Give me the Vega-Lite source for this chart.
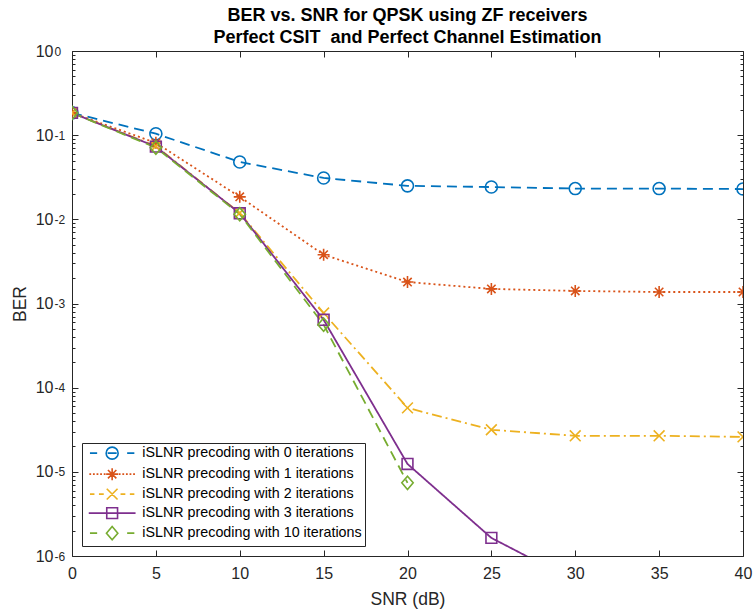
{
  "$schema": "https://vega.github.io/schema/vega-lite/v6.json",
  "width": 671,
  "height": 505,
  "autosize": {"type": "none"},
  "padding": {"left": 72, "top": 51, "right": 11, "bottom": 57},
  "background": "white",
  "title": {
    "text": ["BER vs. SNR for QPSK using ZF receivers", "Perfect CSIT\u00a0 and Perfect Channel Estimation"],
    "font": "Liberation Sans",
    "fontSize": 18,
    "fontWeight": "bold",
    "color": "#000000",
    "lineHeight": 22,
    "offset": -4,
    "anchor": "middle",
    "frame": "group"
  },
  "data": {
    "values": [
      {"snr": 0, "ber": 0.184, "series": "iSLNR precoding with 0 iterations"},
      {"snr": 5, "ber": 0.104, "series": "iSLNR precoding with 0 iterations"},
      {"snr": 10, "ber": 0.048, "series": "iSLNR precoding with 0 iterations"},
      {"snr": 15, "ber": 0.031, "series": "iSLNR precoding with 0 iterations"},
      {"snr": 20, "ber": 0.025, "series": "iSLNR precoding with 0 iterations"},
      {"snr": 25, "ber": 0.0242, "series": "iSLNR precoding with 0 iterations"},
      {"snr": 30, "ber": 0.0232, "series": "iSLNR precoding with 0 iterations"},
      {"snr": 35, "ber": 0.0232, "series": "iSLNR precoding with 0 iterations"},
      {"snr": 40, "ber": 0.0229, "series": "iSLNR precoding with 0 iterations"},
      {"snr": 0, "ber": 0.184, "series": "iSLNR precoding with 1 iterations"},
      {"snr": 5, "ber": 0.081, "series": "iSLNR precoding with 1 iterations"},
      {"snr": 10, "ber": 0.0185, "series": "iSLNR precoding with 1 iterations"},
      {"snr": 15, "ber": 0.0038, "series": "iSLNR precoding with 1 iterations"},
      {"snr": 20, "ber": 0.0018, "series": "iSLNR precoding with 1 iterations"},
      {"snr": 25, "ber": 0.00149, "series": "iSLNR precoding with 1 iterations"},
      {"snr": 30, "ber": 0.00141, "series": "iSLNR precoding with 1 iterations"},
      {"snr": 35, "ber": 0.00137, "series": "iSLNR precoding with 1 iterations"},
      {"snr": 40, "ber": 0.00137, "series": "iSLNR precoding with 1 iterations"},
      {"snr": 0, "ber": 0.184, "series": "iSLNR precoding with 2 iterations"},
      {"snr": 5, "ber": 0.074, "series": "iSLNR precoding with 2 iterations"},
      {"snr": 10, "ber": 0.0119, "series": "iSLNR precoding with 2 iterations"},
      {"snr": 15, "ber": 0.00077, "series": "iSLNR precoding with 2 iterations"},
      {"snr": 20, "ber": 0.0000575, "series": "iSLNR precoding with 2 iterations"},
      {"snr": 25, "ber": 0.0000316, "series": "iSLNR precoding with 2 iterations"},
      {"snr": 30, "ber": 0.0000268, "series": "iSLNR precoding with 2 iterations"},
      {"snr": 35, "ber": 0.0000268, "series": "iSLNR precoding with 2 iterations"},
      {"snr": 40, "ber": 0.000026, "series": "iSLNR precoding with 2 iterations"},
      {"snr": 0, "ber": 0.184, "series": "iSLNR precoding with 3 iterations"},
      {"snr": 5, "ber": 0.073, "series": "iSLNR precoding with 3 iterations"},
      {"snr": 10, "ber": 0.0118, "series": "iSLNR precoding with 3 iterations"},
      {"snr": 15, "ber": 0.00064, "series": "iSLNR precoding with 3 iterations"},
      {"snr": 20, "ber": 0.0000124, "series": "iSLNR precoding with 3 iterations"},
      {"snr": 25, "ber": 0.00000164, "series": "iSLNR precoding with 3 iterations"},
      {"snr": 30, "ber": 0.0000005, "series": "iSLNR precoding with 3 iterations"},
      {"snr": 0, "ber": 0.184, "series": "iSLNR precoding with 10 iterations"},
      {"snr": 5, "ber": 0.071, "series": "iSLNR precoding with 10 iterations"},
      {"snr": 10, "ber": 0.0115, "series": "iSLNR precoding with 10 iterations"},
      {"snr": 15, "ber": 0.00056, "series": "iSLNR precoding with 10 iterations"},
      {"snr": 20, "ber": 0.0000074, "series": "iSLNR precoding with 10 iterations"}
    ]
  },
  "layer": [
    {
      "mark": {"type": "line", "clip": true, "strokeWidth": 1.8},
      "encoding": {
        "x": {
          "field": "snr", "type": "quantitative",
          "scale": {"domain": [0, 40], "nice": false, "zero": false},
          "axis": {
            "values": [0, 5, 10, 15, 20, 25, 30, 35, 40],
            "tickSize": -6, "labelPadding": 15, "labelFontSize": 16,
            "labelFlush": false, "labelOverlap": false,
            "title": "SNR (dB)", "titleFontSize": 17.5, "titlePadding": 9
          }
        },
        "y": {
          "field": "ber", "type": "quantitative",
          "scale": {"type": "log", "domain": [0.000001, 1], "nice": false},
          "axis": {
            "values": [0.000001, 0.00001, 0.0001, 0.001, 0.01, 0.1, 1],
            "tickSize": -6, "labelPadding": 25, "labelFontSize": 16,
            "labelExpr": "'10'", "labelAlign": "right", "labelBaseline": "middle", "labelDy": 3,
            "labelOverlap": false, "labelFlush": false,
            "title": "BER", "titleFontSize": 17.5, "titlePadding": 6
          }
        },
        "color": {
          "field": "series", "type": "nominal",
          "scale": {
            "domain": ["iSLNR precoding with 0 iterations", "iSLNR precoding with 1 iterations", "iSLNR precoding with 2 iterations", "iSLNR precoding with 3 iterations", "iSLNR precoding with 10 iterations"],
            "range": ["#0072BD", "#D95319", "#EDB120", "#7E2F8E", "#77AC30"]
          },
          "legend": null
        },
        "strokeDash": {
          "field": "series", "type": "nominal",
          "scale": {
            "domain": ["iSLNR precoding with 0 iterations", "iSLNR precoding with 1 iterations", "iSLNR precoding with 2 iterations", "iSLNR precoding with 3 iterations", "iSLNR precoding with 10 iterations"],
            "range": [[10, 6], [2, 3], [10, 4, 2, 4], [1, 0], [10, 6]]
          },
          "legend": null
        }
      }
    },
    {
      "mark": {"type": "point", "clip": true, "filled": false, "strokeWidth": 1.6, "size": 144, "opacity": 1},
      "encoding": {
        "x": {
          "field": "snr", "type": "quantitative",
          "scale": {"domain": [0, 40], "nice": false, "zero": false},
          "axis": {
            "orient": "top",
            "values": [0, 5, 10, 15, 20, 25, 30, 35, 40],
            "tickSize": -6, "labels": false, "title": null
          }
        },
        "y": {
          "field": "ber", "type": "quantitative",
          "scale": {"type": "log", "domain": [0.000001, 1], "nice": false},
          "axis": {
            "orient": "left",
            "values": [0.000001, 0.00001, 0.0001, 0.001, 0.01, 0.1, 1],
            "ticks": false, "tickSize": 0, "labelPadding": 18, "labelFontSize": 12,
            "labelExpr": "'' + round(log(datum.value) / LN10)",
            "labelAlign": "left", "labelBaseline": "middle", "labelDy": -5,
            "labelOverlap": false, "labelFlush": false, "title": null
          }
        },
        "color": {
          "field": "series", "type": "nominal",
          "scale": {
            "domain": ["iSLNR precoding with 0 iterations", "iSLNR precoding with 1 iterations", "iSLNR precoding with 2 iterations", "iSLNR precoding with 3 iterations", "iSLNR precoding with 10 iterations"],
            "range": ["#0072BD", "#D95319", "#EDB120", "#7E2F8E", "#77AC30"]
          },
          "legend": null
        },
        "shape": {
          "field": "series", "type": "nominal",
          "scale": {
            "domain": ["iSLNR precoding with 0 iterations", "iSLNR precoding with 1 iterations", "iSLNR precoding with 2 iterations", "iSLNR precoding with 3 iterations", "iSLNR precoding with 10 iterations"],
            "range": ["circle", "M-1,0L1,0M0,-1L0,1M-0.7,-0.7L0.7,0.7M-0.7,0.7L0.7,-0.7", "M-0.9,-0.9L0.9,0.9M-0.9,0.9L0.9,-0.9", "M-0.9,-0.9L0.9,-0.9L0.9,0.9L-0.9,0.9Z", "M0,-1.1L0.95,0L0,1.1L-0.95,0Z"]
          },
          "legend": null
        }
      }
    },
    {
      "mark": {"type": "point", "opacity": 0},
      "encoding": {
        "x": {"field": "snr", "type": "quantitative", "scale": {"domain": [0, 40], "nice": false, "zero": false}, "axis": null},
        "y": {
          "field": "ber", "type": "quantitative",
          "scale": {"type": "log", "domain": [0.000001, 1], "nice": false},
          "axis": {
            "orient": "left",
            "values": [0.000002, 0.000003, 0.000004, 0.000005, 0.000006, 0.000007, 0.000008, 0.000009, 0.00002, 0.00003, 0.00004, 0.00005, 0.00006, 0.00007, 0.00008, 0.00009, 0.0002, 0.0003, 0.0004, 0.0005, 0.0006, 0.0007, 0.0008, 0.0009, 0.002, 0.003, 0.004, 0.005, 0.006, 0.007, 0.008, 0.009, 0.02, 0.03, 0.04, 0.05, 0.06, 0.07, 0.08, 0.09, 0.2, 0.3, 0.4, 0.5, 0.6, 0.7, 0.8, 0.9],
            "tickSize": -3, "labels": false, "title": null
          }
        }
      }
    },
    {
      "mark": {"type": "point", "opacity": 0},
      "encoding": {
        "x": {"field": "snr", "type": "quantitative", "scale": {"domain": [0, 40], "nice": false, "zero": false}, "axis": null},
        "y": {
          "field": "ber", "type": "quantitative",
          "scale": {"type": "log", "domain": [0.000001, 1], "nice": false},
          "axis": {
            "orient": "right",
            "values": [0.000001, 0.00001, 0.0001, 0.001, 0.01, 0.1, 1],
            "tickSize": -6, "labels": false, "title": null
          }
        }
      }
    },
    {
      "mark": {"type": "point", "opacity": 0, "filled": false},
      "encoding": {
        "x": {"field": "snr", "type": "quantitative", "scale": {"domain": [0, 40], "nice": false, "zero": false}, "axis": null},
        "y": {
          "field": "ber", "type": "quantitative",
          "scale": {"type": "log", "domain": [0.000001, 1], "nice": false},
          "axis": {
            "orient": "right",
            "values": [0.000002, 0.000003, 0.000004, 0.000005, 0.000006, 0.000007, 0.000008, 0.000009, 0.00002, 0.00003, 0.00004, 0.00005, 0.00006, 0.00007, 0.00008, 0.00009, 0.0002, 0.0003, 0.0004, 0.0005, 0.0006, 0.0007, 0.0008, 0.0009, 0.002, 0.003, 0.004, 0.005, 0.006, 0.007, 0.008, 0.009, 0.02, 0.03, 0.04, 0.05, 0.06, 0.07, 0.08, 0.09, 0.2, 0.3, 0.4, 0.5, 0.6, 0.7, 0.8, 0.9],
            "tickSize": -3, "labels": false, "title": null
          }
        },
        "color": {
          "field": "series", "type": "nominal",
          "scale": {
            "domain": ["iSLNR precoding with 0 iterations", "iSLNR precoding with 1 iterations", "iSLNR precoding with 2 iterations", "iSLNR precoding with 3 iterations", "iSLNR precoding with 10 iterations"],
            "range": ["#0072BD", "#D95319", "#EDB120", "#7E2F8E", "#77AC30"]
          },
          "legend": {
            "title": null,
            "orient": "bottom-left",
            "offset": 10,
            "padding": 3,
            "strokeColor": "#262626",
            "fillColor": "white",
            "symbolSize": 144,
            "symbolStrokeWidth": 1.6,
            "symbolOffset": 20,
            "symbolOpacity": 1,
            "labelOffset": 23,
            "labelFontSize": 14.3,
            "labelFont": "Liberation Sans",
            "labelColor": "#000000",
            "labelLimit": 0,
            "rowPadding": 1.0
          }
        },
        "shape": {
          "field": "series", "type": "nominal",
          "scale": {
            "domain": ["iSLNR precoding with 0 iterations", "iSLNR precoding with 1 iterations", "iSLNR precoding with 2 iterations", "iSLNR precoding with 3 iterations", "iSLNR precoding with 10 iterations"],
            "range": [
              "M-3.7,0L-2.5,0M-0.75,0L0.75,0M2.5,0L3.7,0M1,0C1,0.552,0.552,1,0,1C-0.552,1,-1,0.552,-1,0C-1,-0.552,-0.552,-1,0,-1C0.552,-1,1,-0.552,1,0Z",
              "M-3.8,0L-3.5,0M-3.2,0L-2.9,0M-2.6,0L-2.3,0M-2,0L-1.7,0M-1.4,0L-1.1,0M1.1,0L1.4,0M1.7,0L2,0M2.3,0L2.6,0M2.9,0L3.2,0M3.5,0L3.8,0M-1,0L1,0M0,-1L0,1M-0.7,-0.7L0.7,0.7M-0.7,0.7L0.7,-0.7",
              "M-3.7,0L-2.95,0M-2.2,0L-1.4,0M1.4,0L2.2,0M2.95,0L3.7,0M-0.9,-0.9L0.9,0.9M-0.9,0.9L0.9,-0.9",
              "M-3.9,0L3.9,0M-0.9,-0.9L0.9,-0.9L0.9,0.9L-0.9,0.9Z",
              "M-3.7,0L-2.5,0M2.5,0L3.7,0M0,-1.1L0.95,0L0,1.1L-0.95,0Z"
            ]
          },
          "legend": {
            "title": null,
            "orient": "bottom-left",
            "offset": 10,
            "padding": 3,
            "strokeColor": "#262626",
            "fillColor": "white",
            "symbolSize": 144,
            "symbolStrokeWidth": 1.6,
            "symbolOffset": 20,
            "symbolOpacity": 1,
            "labelOffset": 23,
            "labelFontSize": 14.3,
            "labelFont": "Liberation Sans",
            "labelColor": "#000000",
            "labelLimit": 0,
            "rowPadding": 1.0
          }
        }
      }
    }
  ],
  "resolve": {"scale": {"shape": "independent", "color": "independent"}, "axis": {"x": "independent", "y": "independent"}},
  "config": {
    "font": "Liberation Sans",
    "view": {"stroke": "#262626", "strokeWidth": 1},
    "axis": {
      "grid": false,
      "domain": false,
      "tickColor": "#262626",
      "tickWidth": 1,
      "labelFont": "Liberation Sans",
      "titleFont": "Liberation Sans",
      "labelColor": "#262626",
      "titleColor": "#262626",
      "titleFontWeight": "normal"
    }
  }
}
